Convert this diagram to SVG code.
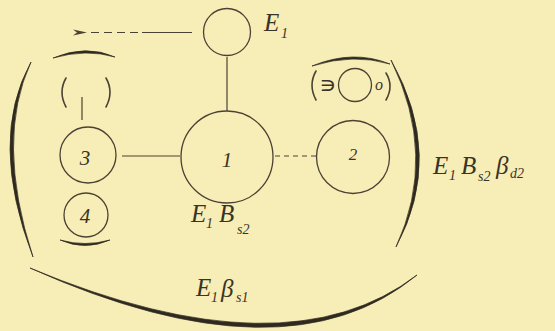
<svg xmlns="http://www.w3.org/2000/svg" width="555" height="331" viewBox="0 0 555 331">
<defs>
<style>
.bg{fill:#f7edb6}
.c{fill:none;stroke:#4a4234;stroke-width:1.3}
.ln{fill:none;stroke:#4a4234;stroke-width:1.2}
.br{fill:#2f2a20;stroke:#2f2a20;stroke-width:0.7;stroke-linejoin:round}
.pr{fill:none;stroke:#4a4234;stroke-width:1.6;stroke-linecap:round}
.t{font-family:'Liberation Serif','Times New Roman',serif;font-style:italic;fill:#3a3327}
.lb{font-size:25px}
.sb{font-size:14px}
.dg{font-size:21px;text-anchor:middle}
</style>
<marker id="ah" viewBox="0 0 14 8" refX="1" refY="4" markerWidth="14" markerHeight="8" markerUnits="userSpaceOnUse" orient="auto">
<path d="M0,4 L14,1 L10,4 L14,7 Z" fill="#4a4234"/>
</marker>
</defs>
<rect class="bg" x="0" y="0" width="555" height="331"/>

<g id="brackets">
<path class="br" d="M31,62 Q-12,140 33,257 Q-5,140 31,62 Z"/>
<path class="br" d="M391,60 Q445,156 396,247 Q438,156 391,60 Z"/>
<path class="br" d="M30,268 Q286,383 417,275 Q286,375 30,268 Z"/>
<path class="br" d="M53,58 Q86,44 115,57 Q86,48.5 53,58 Z"/>
<path class="br" d="M60,240 Q85,251 110,240 Q85,247 60,240 Z"/>
<path class="br" d="M312,66 Q353,49 390,64 Q353,53 312,66 Z"/>
</g>

<g id="connectors">
<line class="ln" x1="192" y1="32.5" x2="142" y2="32.5"/>
<line class="ln" x1="138" y1="32.5" x2="86" y2="32.5" stroke-dasharray="8,5" marker-end="url(#ah)"/>
<line class="ln" x1="227" y1="57" x2="227" y2="111"/>
<line class="ln" x1="122" y1="156" x2="180" y2="156"/>
<line class="ln" x1="275" y1="156" x2="316" y2="156" stroke-dasharray="5,4"/>
<line class="ln" x1="82" y1="97" x2="82" y2="120"/>
</g>

<g id="node-top">
<circle class="c" cx="227" cy="32" r="23.5"/>
<text class="t lb" x="264" y="31">E<tspan class="sb" x="281" y="38">1</tspan></text>
</g>

<g id="node-1">
<circle class="c" cx="227" cy="157" r="46"/>
<text class="t dg" x="227" y="167">1</text>
<text class="t lb" x="191" y="222">E<tspan class="sb" x="206" y="228">1</tspan><tspan x="219" y="222">B</tspan><tspan class="sb" x="237" y="234">s2</tspan></text>
</g>

<g id="node-2">
<circle class="c" cx="353" cy="157" r="36.5"/>
<text class="t dg" x="353" y="160" style="font-size:17px">2</text>
</g>

<g id="node-3">
<circle class="c" cx="88" cy="155" r="28"/>
<text class="t dg" x="85" y="165">3</text>
</g>

<g id="node-4">
<circle class="c" cx="86" cy="215" r="22"/>
<text class="t dg" x="85" y="223">4</text>
</g>

<g id="node-empty">
<path class="pr" d="M66,78 Q58,92 66,107"/>
<path class="pr" d="M106,78 Q114,92 106,107"/>
</g>

<g id="node-small">
<path class="pr" d="M316,71 Q308,85 316,100"/>
<path class="pr" d="M386,73 Q394,86 386,100"/>
<text x="319" y="93" style="font-size:24px;font-family:'DejaVu Sans',sans-serif;fill:#3a3327">∍</text>
<circle class="c" cx="355" cy="85" r="16.5"/>
<text class="t" x="375" y="90" style="font-size:16px">o</text>
</g>

<g id="label-right">
<text class="t lb" x="433" y="174">E<tspan class="sb" x="449" y="180">1</tspan><tspan x="461" y="174">B</tspan><tspan class="sb" x="478" y="181">s2</tspan><tspan x="496" y="174">β</tspan><tspan class="sb" x="510" y="178">d2</tspan></text>
</g>

<g id="label-bottom">
<text class="t lb" x="196" y="296">E<tspan class="sb" x="211" y="302">1</tspan><tspan x="221" y="297">β</tspan><tspan class="sb" x="236" y="302">s1</tspan></text>
</g>
</svg>
